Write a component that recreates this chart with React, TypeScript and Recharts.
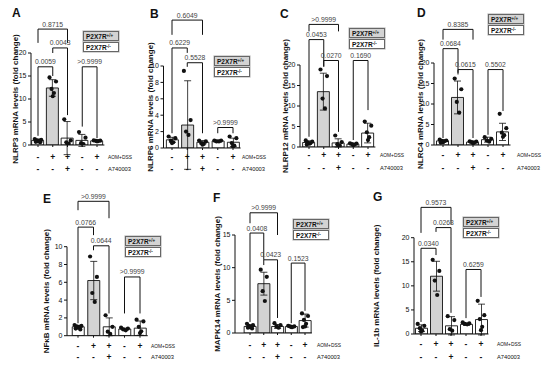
import React from 'react';
import {
  ComposedChart, Bar, Scatter, XAxis, YAxis, ErrorBar, Cell, ReferenceLine, Legend, Customized,
} from 'recharts';

// ---------- shared categories / labels ----------
const groups = [1, 2, 3, 4, 5];
const aomDssSigns = ['-', '+', '+', '-', '+'];
const a740003Signs = ['-', '-', '+', '-', '-'];
const treatmentLabels = ['AOM+DSS', 'A740003'];
const legendLabels = [
  { base: 'P2X7R', sup: '+/+' },
  { base: 'P2X7R', sup: '-/-' },
];

// ---------- A: NLRP3 ----------
const nlrp3Mean = [1.0, 12.4, 1.5, 1.0, 0.9];
const nlrp3Sd = [0.3, 1.8, 3.6, 1.3, 0.1];
const nlrp3Points = [[1.3, 1.1, 1.0, 0.9, 0.8, 0.7, 0.6], [14.7, 13.8, 12.2, 11.3, 10.6], [5.6, 1.0, 0.6, 0.3, 0.2], [2.8, 1.6, 0.4, 0.2, 0.1], [1.0, 0.95, 0.9, 0.85, 0.8]];
const nlrp3Ticks = [0, 5, 10, 15, 20];
const nlrp3Stats = [
  { from: 1, to: 3, y: 25.2, left: 22.2, right: 22.2, p: '0.8715' },
  { from: 2, to: 3, y: 21.1, left: 20.0, right: 6.5, p: '0.0043' },
  { from: 1, to: 2, y: 17.0, left: 2.0, right: 15.0, p: '0.0059' },
  { from: 4, to: 5, y: 17.0, left: 4.0, right: 1.5, p: '>0.9999' },
];

// ---------- B: NLRP6 ----------
const nlrp6Mean = [1.0, 2.8, 0.7, 0.85, 0.7];
const nlrp6Sd = [0.3, 5.4, 0.2, 0.1, 0.5];
const nlrp6Points = [[1.4, 1.2, 0.9, 0.7, 0.6], [9.4, 3.4, 2.0, 1.6], [0.9, 0.8, 0.6, 0.5, 0.4], [0.9, 0.9, 0.8, 0.8], [1.4, 1.2, 0.6, 0.3, 0.2]];
const nlrp6Ticks = [0, 2, 4, 6, 8, 10];
const nlrp6Stats = [
  { from: 1, to: 3, y: 15.6, left: 13.8, right: 13.8, p: '0.6049' },
  { from: 1, to: 2, y: 12.2, left: 1.8, right: 11.6, p: '0.6229' },
  { from: 2, to: 3, y: 10.4, left: 9.9, right: 1.8, p: '0.5528' },
  { from: 4, to: 5, y: 2.5, left: 1.8, right: 1.8, p: '>0.9999' },
];

// ---------- C: NLRP12 ----------
const nlrp12Mean = [1.1, 13.5, 1.0, 0.7, 3.4];
const nlrp12Sd = [0.4, 4.5, 1.0, 0.15, 2.4];
const nlrp12Points = [[1.6, 1.3, 1.1, 0.9, 0.8, 0.6], [18.9, 17.3, 11.8, 9.4], [2.8, 1.2, 0.7, 0.4, 0.2], [0.9, 0.8, 0.7, 0.6, 0.5], [6.2, 5.2, 3.6, 2.4, 1.7]];
const nlrp12Ticks = [0, 5, 10, 15, 20];
const nlrp12Stats = [
  { from: 1, to: 3, y: 29.9, left: 28.2, right: 28.2, p: '>0.9999' },
  { from: 1, to: 2, y: 26.2, left: 2.5, right: 19.6, p: '0.0453' },
  { from: 2, to: 3, y: 21.1, left: 19.6, right: 3.7, p: '0.0270' },
  { from: 4, to: 5, y: 21.1, left: 1.7, right: 9.0, p: '0.1690' },
];

// ---------- D: NLRC4 ----------
const nlrc4Mean = [1.0, 11.6, 0.7, 1.3, 3.2];
const nlrc4Sd = [0.3, 4.0, 0.2, 0.6, 2.1];
const nlrc4Points = [[1.3, 1.1, 1.0, 0.9, 0.7, 0.6], [16.2, 13.6, 10.5, 7.9], [0.9, 0.8, 0.7, 0.6, 0.5], [1.9, 1.5, 1.1, 0.8], [7.6, 4.1, 3.0, 2.4, 2.0]];
const nlrc4Ticks = [0, 5, 10, 15, 20];
const nlrc4Stats = [
  { from: 1, to: 3, y: 28.2, left: 25.7, right: 25.7, p: '0.8385' },
  { from: 1, to: 2, y: 23.5, left: 1.7, right: 17.6, p: '0.0684' },
  { from: 2, to: 3, y: 18.4, left: 17.2, right: 1.7, p: '0.0615' },
  { from: 4, to: 5, y: 18.4, left: 2.5, right: 8.3, p: '0.5502' },
];

// ---------- E: NFkB ----------
const nfkbMean = [1.0, 6.2, 1.0, 0.75, 0.85];
const nfkbSd = [0.15, 2.15, 1.0, 0.1, 0.8];
const nfkbPoints = [[1.2, 1.1, 1.05, 1.0, 0.9, 0.8, 0.7], [8.9, 6.6, 4.8, 3.8], [2.3, 1.0, 0.45, 0.2], [0.9, 0.8, 0.7, 0.6], [1.8, 1.6, 1.0, 0.5, 0.3]];
const nfkbTicks = [0, 2, 4, 6, 8, 10];
const nfkbStats = [
  { from: 1, to: 3, y: 15.1, left: 14.1, right: 13.2, p: '>0.9999' },
  { from: 1, to: 2, y: 12.2, left: 1.4, right: 11.3, p: '0.0766' },
  { from: 2, to: 3, y: 10.1, left: 9.6, right: 2.5, p: '0.0644' },
  { from: 4, to: 5, y: 6.6, left: 2.5, right: 2.5, p: '>0.9999' },
];

// ---------- F: MAPK14 ----------
const mapk14Mean = [1.0, 7.55, 1.0, 1.0, 1.9];
const mapk14Sd = [0.2, 1.75, 0.3, 0.1, 1.0];
const mapk14Points = [[1.4, 1.2, 1.1, 1.0, 0.9, 0.8, 0.7], [9.7, 8.6, 6.4, 4.9], [1.5, 1.2, 1.0, 0.8], [1.1, 1.0, 1.0, 0.9, 0.9], [3.0, 2.6, 2.0, 1.4, 1.0, 0.9]];
const mapk14Ticks = [0, 5, 10, 15];
const mapk14Stats = [
  { from: 1, to: 3, y: 18.4, left: 16.8, right: 15.0, p: '>0.9999' },
  { from: 1, to: 2, y: 15.3, left: 1.7, right: 11.2, p: '0.0408' },
  { from: 2, to: 3, y: 11.2, left: 10.4, right: 2.3, p: '0.0423' },
  { from: 4, to: 5, y: 10.7, left: 1.5, right: 3.4, p: '0.1523' },
];

// ---------- G: IL-1b ----------
const il1bMean = [1.2, 12.0, 1.7, 2.0, 3.0];
const il1bSd = [0.7, 3.1, 1.9, 0.2, 3.2];
const il1bPoints = [[2.1, 1.7, 1.2, 0.7, 0.5], [15.4, 13.1, 11.1, 8.1], [3.7, 2.9, 1.0, 0.7], [2.4, 2.2, 2.1, 2.0], [6.9, 3.9, 3.1, 1.5, 0.8]];
const il1bTicks = [0, 5, 10, 15, 20];
const il1bStats = [
  { from: 1, to: 3, y: 26.3, left: 21.0, right: 22.8, p: '0.9573' },
  { from: 2, to: 3, y: 22.1, left: 21.2, right: 4.4, p: '0.0263' },
  { from: 1, to: 2, y: 17.8, left: 2.5, right: 16.4, p: '0.0340' },
  { from: 4, to: 5, y: 13.4, left: 3.3, right: 7.7, p: '0.6259' },
];

// ---------- styles / layout ----------
const barFills = ['#ffffff', '#d3d3d3', '#ffffff', '#ffffff', '#ffffff'];
const jitter = [-0.22, 0.22, -0.08, 0.08, 0, -0.15, 0.15];

type Stat = { from: number; to: number; y: number; left: number; right: number; p: string };
type PanelCfg = {
  letter: string; title: string;
  mean: number[]; sd: number[]; points: number[][]; ticks: number[]; stats: Stat[];
  box: { x: number; y: number; w: number; h: number };
  axisX: number; c1: number; c5: number; top: number; bottom: number;
  letterPos: [number, number]; titleX: number; legendPos: [number, number];
  labelX: number; rows: [number, number];
};

const panels: PanelCfg[] = [
  {
    letter: 'A', title: 'NLRP3 mRNA levels (fold change)',
    mean: nlrp3Mean, sd: nlrp3Sd, points: nlrp3Points, ticks: nlrp3Ticks, stats: nlrp3Stats,
    box: { x: 0, y: 0, w: 148, h: 180 }, axisX: 31, c1: 38, c5: 97, top: 53, bottom: 145,
    letterPos: [12, 17], titleX: 15, legendPos: [83, 31], labelX: 108, rows: [157, 169],
  },
  {
    letter: 'B', title: 'NLRP6 mRNA levels (fold change)',
    mean: nlrp6Mean, sd: nlrp6Sd, points: nlrp6Points, ticks: nlrp6Ticks, stats: nlrp6Stats,
    box: { x: 135, y: 0, w: 148, h: 180 }, axisX: 163.5, c1: 172, c5: 233, top: 66, bottom: 148,
    letterPos: [150, 18], titleX: 150, legendPos: [214, 56], labelX: 242, rows: [157, 169],
  },
  {
    letter: 'C', title: 'NLRP12 mRNA levels (fold change)',
    mean: nlrp12Mean, sd: nlrp12Sd, points: nlrp12Points, ticks: nlrp12Ticks, stats: nlrp12Stats,
    box: { x: 270, y: 0, w: 148, h: 180 }, axisX: 300, c1: 309, c5: 368, top: 65, bottom: 147,
    letterPos: [280, 18], titleX: 285, legendPos: [349, 28], labelX: 380, rows: [155, 168],
  },
  {
    letter: 'D', title: 'NLRC4 mRNA levels (fold change)',
    mean: nlrc4Mean, sd: nlrc4Sd, points: nlrc4Points, ticks: nlrc4Ticks, stats: nlrc4Stats,
    box: { x: 405, y: 0, w: 145, h: 180 }, axisX: 434, c1: 443, c5: 503, top: 63, bottom: 145,
    letterPos: [417, 17], titleX: 420, legendPos: [488, 14], labelX: 517, rows: [155, 168],
  },
  {
    letter: 'E', title: 'NFκB mRNA levels (fold change)',
    mean: nfkbMean, sd: nfkbSd, points: nfkbPoints, ticks: nfkbTicks, stats: nfkbStats,
    box: { x: 0, y: 180, w: 200, h: 187 }, axisX: 67, c1: 78, c5: 140, top: 246.7, bottom: 335.7,
    letterPos: [43, 203], titleX: 47, legendPos: [125, 236], labelX: 151, rows: [345.7, 357.3],
  },
  {
    letter: 'F', title: 'MAPK14 mRNA levels (fold change)',
    mean: mapk14Mean, sd: mapk14Sd, points: mapk14Points, ticks: mapk14Ticks, stats: mapk14Stats,
    box: { x: 200, y: 180, w: 160, h: 187 }, axisX: 235, c1: 250, c5: 305, top: 235, bottom: 333,
    letterPos: [213, 202], titleX: 217, legendPos: [293, 219], labelX: 317, rows: [345, 357],
  },
  {
    letter: 'G', title: 'IL-1b mRNA levels (fold change)',
    mean: il1bMean, sd: il1bSd, points: il1bPoints, ticks: il1bTicks, stats: il1bStats,
    box: { x: 360, y: 180, w: 190, h: 187 }, axisX: 414, c1: 421, c5: 481, top: 237.7, bottom: 334,
    letterPos: [373, 201], titleX: 377, legendPos: [463, 217], labelX: 497, rows: [344, 357],
  },
];

const YW = 20;
const XH = 30;

function LegendBoxes() {
  const fills = ['#d3d3d3', '#ffffff'];
  return (
    <div style={{ display: 'flex', flexDirection: 'column', gap: 1 }}>
      {legendLabels.map((l, i) => (
        <div
          key={i}
          style={{
            width: 32, height: 8, border: '1px solid #666', background: fills[i],
            fontSize: 6.5, fontWeight: 'bold', lineHeight: '9px', paddingLeft: 2,
            boxShadow: '0 0 0 0.6px #bbb', color: '#111', whiteSpace: 'nowrap',
          }}
        >
          {l.base}
          <span style={{ fontSize: 4.5, position: 'relative', top: -2.5 }}>{l.sup}</span>
        </div>
      ))}
    </div>
  );
}

function Panel({ cfg }: { cfg: PanelCfg }) {
  const { box, axisX, c1, c5, top, bottom } = cfg;
  const s = (c5 - c1) / 4;
  const plotRight = c5 + s / 2;
  const xDomain = [1 - (c1 - axisX) / s, 5.5];
  const ymax = cfg.ticks[cfg.ticks.length - 1];
  const margin = {
    top: top - box.y,
    left: axisX - box.x - YW,
    right: box.x + box.w - plotRight,
    bottom: box.y + box.h - bottom - XH,
  };
  const barData = groups.map((g, i) => ({ x: g, mean: cfg.mean[i], sd: cfg.sd[i] }));
  const pts = cfg.points.flatMap((arr, i) =>
    arr.map((v, j) => ({ x: groups[i] + jitter[j % jitter.length], y: v })),
  );
  const r1 = cfg.rows[0] - box.y;
  const r2 = cfg.rows[1] - box.y;
  const lx = cfg.labelX - box.x;
  const plotMidY = (top + bottom) / 2 - box.y;

  const renderTick = (props: any) => {
    const { x, payload } = props;
    const i = groups.indexOf(payload.value);
    return (
      <g>
        <text x={x} y={r1} textAnchor="middle" dominantBaseline="central" fontSize={8.5} fontWeight="bold" fill="#111">
          {aomDssSigns[i]}
        </text>
        <text x={x} y={r2} textAnchor="middle" dominantBaseline="central" fontSize={8.5} fontWeight="bold" fill="#111">
          {a740003Signs[i]}
        </text>
        {i === 4 && (
          <>
            <text x={lx} y={r1} dominantBaseline="central" fontSize={6} fill="#111" textLength={24} lengthAdjust="spacingAndGlyphs">
              {treatmentLabels[0]}
            </text>
            <text x={lx} y={r2} dominantBaseline="central" fontSize={6} fill="#111" textLength={23} lengthAdjust="spacingAndGlyphs">
              {treatmentLabels[1]}
            </text>
          </>
        )}
      </g>
    );
  };

  const lineProps = { stroke: '#111', strokeWidth: 1, ifOverflow: 'visible' as const };

  return (
    <div style={{ position: 'absolute', left: box.x, top: box.y, width: box.w, height: box.h }}>
      <ComposedChart width={box.w} height={box.h} data={barData} margin={margin}>
        <XAxis
          type="number" dataKey="x" domain={xDomain} allowDataOverflow ticks={groups} interval={0}
          height={XH} tickSize={2} tickMargin={0}
          axisLine={{ stroke: '#111', strokeWidth: 1 }} tickLine={{ stroke: '#111' }} tick={renderTick}
        />
        <XAxis xAxisId="pts" type="number" dataKey="x" domain={xDomain} allowDataOverflow hide />
        <YAxis
          type="number" domain={[0, ymax]} allowDataOverflow ticks={cfg.ticks} interval={0} width={YW}
          tickSize={3} tickMargin={1.5}
          axisLine={{ stroke: '#111', strokeWidth: 1 }} tickLine={{ stroke: '#111' }}
          tick={{ fontSize: 7, fill: '#111' }}
        />
        <Bar dataKey="mean" barSize={12} isAnimationActive={false} stroke="#111" strokeWidth={0.9}>
          {barData.map((d, i) => (
            <Cell key={i} fill={barFills[i]} />
          ))}
          <ErrorBar dataKey="sd" width={3.5} stroke="#111" strokeWidth={0.8} direction="y" />
        </Bar>
        <Scatter
          xAxisId="pts" data={pts} dataKey="y" isAnimationActive={false}
          shape={(p: any) => <circle cx={p.cx} cy={p.cy} r={2.1} fill="#111" />}
        />
        {cfg.stats.map((b, k) => (
          <ReferenceLine key={`l${k}`} segment={[{ x: b.from, y: b.left }, { x: b.from, y: b.y }]} {...lineProps} />
        ))}
        {cfg.stats.map((b, k) => (
          <ReferenceLine
            key={`h${k}`}
            segment={[{ x: b.from, y: b.y }, { x: b.to, y: b.y }]}
            {...lineProps}
            label={{ value: b.p, position: 'top', offset: 2.5, fontSize: 6.8, fill: '#444' }}
          />
        ))}
        {cfg.stats.map((b, k) => (
          <ReferenceLine key={`r${k}`} segment={[{ x: b.to, y: b.y }, { x: b.to, y: b.right }]} {...lineProps} />
        ))}
        <Legend
          content={() => <LegendBoxes />}
          verticalAlign="middle" align="center" layout="horizontal" width={40}
          wrapperStyle={{ left: cfg.legendPos[0] - box.x, top: cfg.legendPos[1] - box.y }}
        />
        <Customized
          component={() => (
            <g>
              <text x={cfg.letterPos[0] - box.x} y={cfg.letterPos[1] - box.y} fontSize={12} fontWeight="bold" fill="#111">
                {cfg.letter}
              </text>
              <text
                x={cfg.titleX - box.x} y={plotMidY}
                transform={`rotate(-90, ${cfg.titleX - box.x}, ${plotMidY})`}
                textAnchor="middle" dominantBaseline="central" fontSize={8} fontWeight="bold" fill="#111"
              >
                {cfg.title}
              </text>
            </g>
          )}
        />
      </ComposedChart>
    </div>
  );
}

export default function App() {
  return (
    <div
      style={{
        position: 'absolute', left: 0, top: 0, width: 550, height: 367, background: '#fff',
        fontFamily: '"Liberation Sans", Arial, sans-serif', overflow: 'hidden',
      }}
    >
      {panels.map((p) => (
        <Panel key={p.letter} cfg={p} />
      ))}
    </div>
  );
}
